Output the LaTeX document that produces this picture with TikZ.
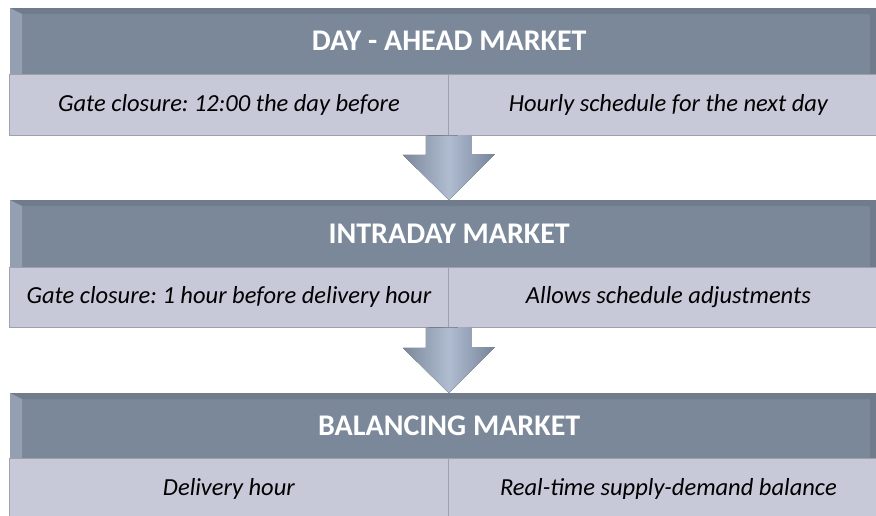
\documentclass[tikz,border=0pt]{standalone}
\usepackage{fontspec}
\setmainfont{Carlito}
\frenchspacing
\usetikzlibrary{positioning}
\definecolor{hdrgray}{RGB}{123,136,154}
\definecolor{hdrdark}{RGB}{112,123,140}
\definecolor{hdrlight}{RGB}{148,159,178}
\definecolor{cellblue}{RGB}{199,200,216}
\definecolor{celledge}{RGB}{158,160,172}
\definecolor{arrowlt}{RGB}{176,188,208}
\definecolor{arrowdk}{RGB}{118,132,154}
\tikzset{
  header/.style={fill=hdrgray, minimum width=878pt, minimum height=#1, inner sep=0pt,
    text=white, font=\fontsize{30}{34}\selectfont\bfseries, anchor=north west,
    path picture={
      \fill[hdrdark] (path picture bounding box.north west) -- (path picture bounding box.north east)
        -- ++(-18pt,-6pt) -- ([shift={(12pt,-6pt)}]path picture bounding box.north west) -- cycle;
      \fill[hdrlight] (path picture bounding box.north west) -- ++(12pt,-6pt)
        -- ([xshift=12pt]path picture bounding box.south west) -- (path picture bounding box.south west) -- cycle;
      \fill[hdrdark] ([xshift=-12pt]path picture bounding box.north east) -- ++(-6pt,-6pt)
        -- ([xshift=-18pt]path picture bounding box.south east) -- ([xshift=-12pt]path picture bounding box.south east) -- cycle;
    }},
  cell/.style={fill=cellblue, draw=celledge, line width=0.8pt, minimum height=#1, inner sep=0pt,
    font=\fontsize{24.5}{28}\selectfont\itshape, anchor=north west},
  blockarrow/.style={left color=hdrgray, right color=arrowdk, middle color=arrowlt, draw=none},
}
\begin{document}
\begin{tikzpicture}[x=1pt,y=-1pt]
  \useasboundingbox (0,0) rectangle (876,515);
  \clip (0,0) rectangle (876,515);
  %day-ahead%
  \node [header=66pt] (dam) at (10,8) {DAY - AHEAD MARKET};
  \node [cell=61pt, minimum width=439pt] (gate1) at (9,74) {Gate closure: 12:00 the day before};
  \node [cell=61pt, minimum width=440pt] (sched1) at (448,74) {Hourly schedule for the next day};
  %intraday%
  \node [header=67pt] (idm) at (10,200) {INTRADAY MARKET};
  \node [cell=60pt, minimum width=439pt] (gate2) at (9,267) {Gate closure: 1 hour before delivery hour};
  \node [cell=60pt, minimum width=440pt] (sched2) at (448,267) {Allows schedule adjustments};
  %balancing%
  \node [header=65pt] (bm) at (10,393) {BALANCING MARKET};
  \node [cell=61pt, minimum width=439pt] (deliv) at (9,458) {Delivery hour};
  \node [cell=61pt, minimum width=440pt] (rt) at (448,458) {Real-time supply-demand balance};
  %arrows%
  \coordinate (a1) at (gate1.south east);
  \coordinate (a2) at (gate2.south east);
  \fill [blockarrow] (a1) ++(-23,0) -- ++(0,19) -- ++(-23,0) -- (a1 |- idm.north) -- ++(46,-46)
    -- ++(-23,0) -- ++(0,-19) -- cycle;
  \fill [blockarrow] (a2) ++(-23,0) -- ++(0,20) -- ++(-23,0) -- (a2 |- bm.north) -- ++(46,-46)
    -- ++(-23,0) -- ++(0,-20) -- cycle;
\end{tikzpicture}
\end{document}
